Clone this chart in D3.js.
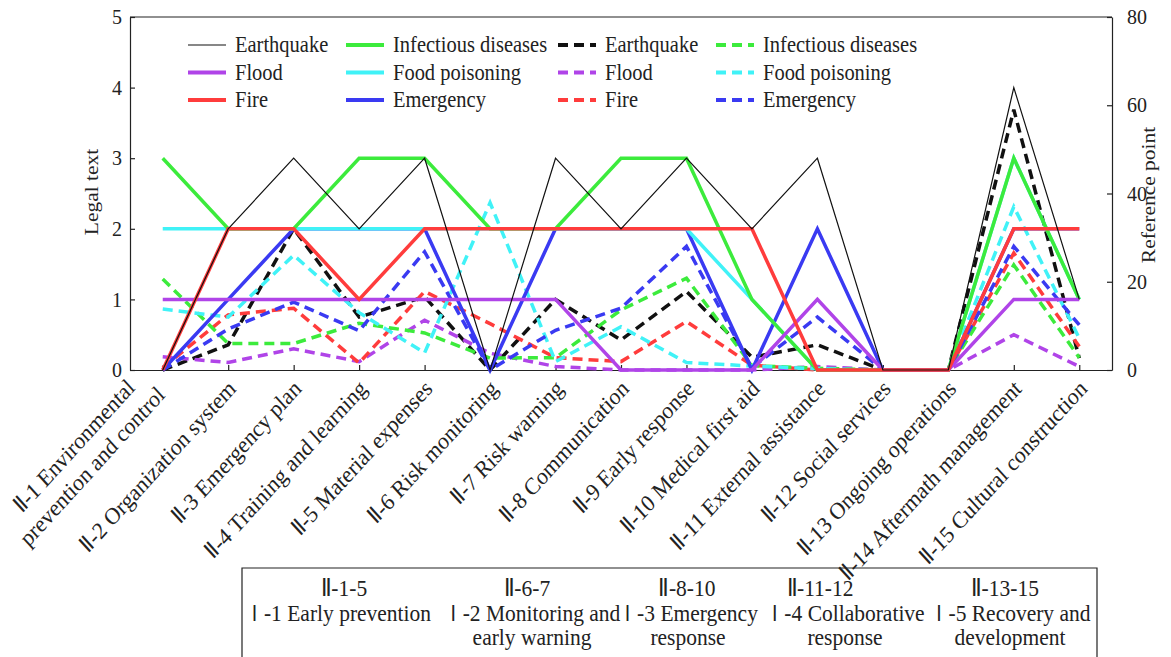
<!DOCTYPE html>
<html>
<head>
<meta charset="utf-8">
<script src="https://cdn.jsdelivr.net/npm/d3@7"></script>
<style>
  body { margin: 0; background: #fff; }
</style>
</head>
<body>
<div class="chartWrap"></div>
<script>
//Data
const categories = [
  "Ⅱ-1 Environmental\nprevention and control", "Ⅱ-2 Organization system", "Ⅱ-3 Emergency plan",
  "Ⅱ-4 Training and learning", "Ⅱ-5 Material expenses", "Ⅱ-6 Risk monitoring", "Ⅱ-7 Risk warning",
  "Ⅱ-8 Communication", "Ⅱ-9 Early response", "Ⅱ-10 Medical first aid", "Ⅱ-11 External assistance",
  "Ⅱ-12 Social services", "Ⅱ-13 Ongoing operations", "Ⅱ-14 Aftermath management", "Ⅱ-15 Cultural construction"
];
//Legal text (left axis, solid)
const legalEarthquake = [0, 2, 3, 2, 3, 0, 3, 2, 3, 2, 3, 0, 0, 4, 1];
const legalFlood      = [1, 1, 1, 1, 1, 1, 1, 0, 0, 0, 1, 0, 0, 1, 1];
const legalFire       = [0, 2, 2, 1, 2, 2, 2, 2, 2, 2, 0, 0, 0, 2, 2];
const legalInfectious = [3, 2, 2, 3, 3, 2, 2, 3, 3, 1, 0, 0, 0, 3, 1];
const legalFood       = [2, 2, 2, 2, 2, 2, 2, 2, 2, 1, 0, 0, 0, 3, 1];
const legalEmergency  = [0, 1, 2, 2, 2, 0, 2, 2, 2, 0, 2, 0, 0, 2, 2];
//Reference point (right axis, dashed)
const refEarthquake = [0, 5.7, 32, 12, 16.6, 0, 16, 6.8, 17.8, 2.9, 5.7, 0, 0, 59, 2.7];
const refFlood      = [3, 1.7, 4.8, 1.9, 11.3, 3.8, 0.8, 0, 0, 0, 0.8, 0, 0, 8, 0.8];
const refFire       = [0.5, 12.5, 14, 1.6, 17.8, 10.5, 2.8, 1.9, 11, 1.1, 0, 0, 0, 26.5, 5.3];
const refInfectious = [20.6, 6, 6, 10.6, 8.4, 2.7, 2.8, 13.6, 20.8, 1, 0.4, 0, 0, 23.8, 2.8];
const refFood       = [13.8, 12, 26, 13, 3.9, 37.9, 1.9, 9.8, 1.7, 0.9, 0.3, 0, 0, 37, 7.2];
const refEmergency  = [0, 9.3, 15.4, 8.9, 26.8, 0, 9, 14, 28, 0.5, 12, 0, 0, 28, 10.2];
const legalTicks = [0, 1, 2, 3, 4, 5];
const refTicks = [0, 20, 40, 60, 80];
const groupRanges = ["Ⅱ-1-5", "Ⅱ-6-7", "Ⅱ-8-10", "Ⅱ-11-12", "Ⅱ-13-15"];
const groupNames = ["Ⅰ-1 Early prevention", "Ⅰ-2 Monitoring and\nearly warning", "Ⅰ-3 Emergency\nresponse",
                    "Ⅰ-4 Collaborative\nresponse", "Ⅰ-5 Recovery and\ndevelopment"];

//Variables
let width = 1171, height = 657,
    plotLeft = 130, plotRight = 1112, plotTop = 17, plotBottom = 370;
const serif = "'Liberation Serif', 'Times New Roman', serif";
const ink = "#222";
const stretch = 1.1; //the original figure is a little taller than wide, text included

const colors = {
  Earthquake: "#111", Flood: "#b044e8", Fire: "#ff3c3c",
  "Infectious diseases": "#3ceb3c", "Food poisoning": "#40f2f7", Emergency: "#3a3af2"
};

//solid series, drawn in this order (later on top)
const solidSeries = [
  {name: "Emergency", values: legalEmergency},
  {name: "Food poisoning", values: legalFood},
  {name: "Infectious diseases", values: legalInfectious},
  {name: "Flood", values: legalFlood},
  {name: "Fire", values: legalFire},
  {name: "Earthquake", values: legalEarthquake}
];
const dashedSeries = [
  {name: "Earthquake", values: refEarthquake},
  {name: "Flood", values: refFlood},
  {name: "Fire", values: refFire},
  {name: "Infectious diseases", values: refInfectious},
  {name: "Food poisoning", values: refFood},
  {name: "Emergency", values: refEmergency}
];

let canvas = d3.select(".chartWrap").append("svg").attr("width", width).attr("height", height)
  .style("font-family", serif);

//put a text at (x,y), stretched vertically like the original
function addText(x, y, str, size) {
  return canvas.append("text").text(str)
    .attr("transform", "translate(" + x + "," + y + ") scale(1," + stretch + ")")
    .style("font-family", serif).attr("font-size", size).attr("fill", ink);
}

let xScale = d3.scalePoint().domain(d3.range(categories.length)).range([plotLeft, plotRight]).padding(0.5);
let yLeft = d3.scaleLinear().domain([0, 5]).range([plotBottom, plotTop]);
let yRight = d3.scaleLinear().domain([0, 80]).range([plotBottom, plotTop]);

//Axes (ticks point inward)
let xAxisG = canvas.append("g").attr("transform", "translate(0," + plotBottom + ")")
  .call(d3.axisBottom(xScale).tickSize(-5).tickSizeOuter(0).tickFormat(""));
canvas.append("line").attr("x1", plotLeft).attr("x2", plotRight).attr("y1", plotTop).attr("y2", plotTop)
  .attr("stroke", ink).attr("stroke-width", 1.2);
let yLeftG = canvas.append("g").attr("transform", "translate(" + plotLeft + ",0)")
  .call(d3.axisLeft(yLeft).tickValues(legalTicks).tickFormat(d3.format("d")).tickSize(-5).tickSizeOuter(0).tickPadding(8));
let yRightG = canvas.append("g").attr("transform", "translate(" + plotRight + ",0)")
  .call(d3.axisRight(yRight).tickValues(refTicks).tickFormat(d3.format("d")).tickSize(-5).tickSizeOuter(0).tickPadding(15));
[xAxisG, yLeftG, yRightG].forEach(function(g) {
  g.attr("font-family", null).attr("font-size", null);
  g.selectAll("path, line").attr("stroke", ink).attr("stroke-width", 1.2);
  g.selectAll("text").attr("fill", ink).style("font-family", serif).attr("font-size", 20)
    .attr("transform", "scale(1," + stretch + ")").attr("dy", "0.3em");
});

//Lines
let lineLeft = d3.line().x((d, i) => xScale(i)).y(d => yLeft(d));
let lineRight = d3.line().x((d, i) => xScale(i)).y(d => yRight(d));

canvas.append("g").selectAll("path").data(dashedSeries).enter().append("path")
  .attr("d", d => lineRight(d.values))
  .attr("fill", "none")
  .attr("stroke", d => colors[d.name])
  .attr("stroke-width", 3.5)
  .attr("stroke-dasharray", "10,6");

canvas.append("g").selectAll("path").data(solidSeries).enter().append("path")
  .attr("d", d => lineLeft(d.values))
  .attr("fill", "none")
  .attr("stroke", d => colors[d.name])
  .attr("stroke-width", d => d.name == "Earthquake" ? 1.2 : 3.5)
  .attr("stroke-linejoin", "miter");

//Legend: 4 columns, 3 rows
const legendCols = [
  {x: 235, dashed: false, names: ["Earthquake", "Flood", "Fire"]},
  {x: 393, dashed: false, names: ["Infectious diseases", "Food poisoning", "Emergency"]},
  {x: 605, dashed: true, names: ["Earthquake", "Flood", "Fire"]},
  {x: 763, dashed: true, names: ["Infectious diseases", "Food poisoning", "Emergency"]}
];
const legendRows = [45, 72.5, 100];
legendCols.forEach(function(col) {
  col.names.forEach(function(name, r) {
    canvas.append("line")
      .attr("x1", col.x - 47).attr("x2", col.x - 9)
      .attr("y1", legendRows[r]).attr("y2", legendRows[r])
      .attr("stroke", colors[name])
      .attr("stroke-width", (!col.dashed && name == "Earthquake") ? 1.2 : 4)
      .attr("stroke-dasharray", col.dashed ? "10,6" : null);
    addText(col.x, legendRows[r] + 7, name, 20.5);
  });
});

//X labels, rotated 45 degrees (stretched), multi-line centred
categories.forEach(function(label, i) {
  let lines = label.split("\n");
  let g = canvas.append("g")
    .attr("transform", "translate(" + (xScale(i) + 9) + "," + 390 + ") scale(1," + stretch + ") rotate(-45)");
  let texts = lines.map(function(line, k) {
    return g.append("text").text(line)
      .attr("text-anchor", "end")
      .style("font-family", serif)
      .attr("font-size", 21.5).attr("fill", ink)
      .attr("y", (k - (lines.length - 1)) * 26);
  });
  if (lines.length > 1) {
    let w = texts.map(t => t.node().getComputedTextLength());
    let maxW = d3.max(w);
    texts.forEach(function(t, k) { t.attr("x", -8 - (maxW - w[k]) / 2); });
  }
});

//Axis titles
canvas.append("text").text("Legal text")
  .attr("transform", "translate(98,192) scale(1," + stretch + ") rotate(-90)")
  .attr("text-anchor", "middle").style("font-family", serif).attr("font-size", 19.5).attr("fill", ink);
canvas.append("text").text("Reference point")
  .attr("transform", "translate(1155,195) scale(1," + stretch + ") rotate(-90)")
  .attr("text-anchor", "middle").style("font-family", serif).attr("font-size", 19.5).attr("fill", ink);

//Bottom grouping table
canvas.append("path")
  .attr("d", "M242,657 L242,568 L1097,568 L1097,657")
  .attr("fill", "none").attr("stroke", ink).attr("stroke-width", 1.2);
const groupCenters = [338, 532, 688, 845, 1010];
const rangeCenters = [344, 527, 687, 820, 1005];
groupRanges.forEach(function(range, i) {
  let lines = [range].concat(groupNames[i].split("\n"));
  lines.forEach(function(line, k) {
    let cx = k == 0 ? rangeCenters[i] : groupCenters[i];
    let t = canvas.append("text")
      .attr("transform", "translate(" + cx + "," + (596 + k * 24.5) + ") scale(1," + stretch + ")")
      .attr("text-anchor", "middle").style("font-family", serif).attr("font-size", 21.5).attr("fill", ink);
    //the roman numeral in the table is set full width, as in the original
    if (line.charAt(0) == "Ⅰ") {
      t.append("tspan").text("Ⅰ").style("font-family", "'Noto Sans CJK SC'").attr("font-size", 19);
      t.append("tspan").text(line.slice(1));
    } else {
      t.text(line);
    }
  });
});
</script>
</body>
</html>
